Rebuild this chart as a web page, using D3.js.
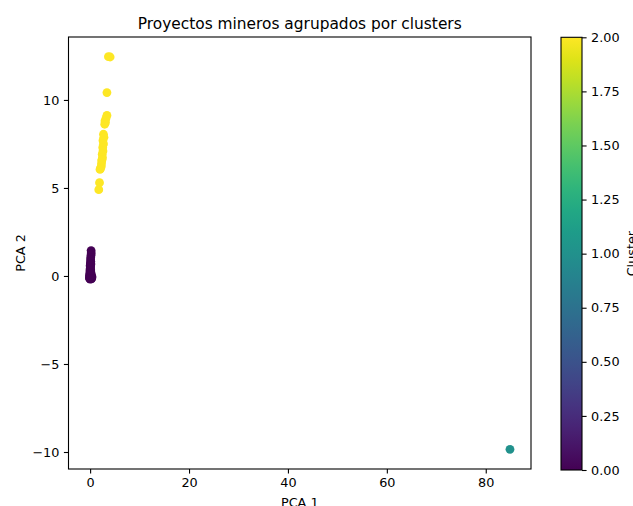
<!DOCTYPE html>
<html>
<head>
<meta charset="utf-8">
<script src="https://cdn.jsdelivr.net/npm/d3@7"></script>
<style>
  html, body { margin: 0; padding: 0; background: #fff; }
  svg { display: block; font-family: "DejaVu Sans", sans-serif; }
</style>
</head>
<body>
<svg id="chart" width="633" height="506"></svg>
<script>
// PCA projection of mining projects, coloured by cluster label
const cluster0 = [
  [0.20, 1.44], [0.22, 1.30], [0.18, 1.18], [0.12, 1.05], [0.10, 0.92],
  [0.14, 0.82], [0.06, 0.72], [0.10, 0.62], [0.04, 0.54], [0.08, 0.46],
  [0.00, 0.40], [0.12, 0.34], [-0.04, 0.28], [0.06, 0.22], [0.18, 0.18],
  [-0.06, 0.14], [0.02, 0.10], [0.22, 0.06], [-0.10, 0.04], [0.10, 0.02],
  [0.30, -0.02], [-0.08, -0.06], [0.04, -0.08], [0.18, -0.10], [0.34, -0.12],
  [-0.10, -0.14], [0.10, -0.15], [0.26, -0.16], [0.00, -0.18], [0.38, -0.05],
  [-0.12, -0.10], [0.16, 0.00], [0.08, 0.30], [0.02, 0.60], [0.16, 0.68]
];
const cluster1 = [
  [84.9, -9.85]
];
const cluster2 = [
  [3.70, 12.46], [4.05, 12.44], [3.40, 10.42], [3.40, 9.12], [3.20, 8.95],
  [3.00, 8.80], [2.95, 8.62], [3.10, 8.72], [2.70, 8.05], [2.80, 7.88],
  [2.60, 7.70], [2.70, 7.50], [2.55, 7.30], [2.60, 7.10], [2.45, 6.92],
  [2.50, 6.72], [2.35, 6.55], [2.30, 6.38], [2.25, 6.22], [2.10, 6.10],
  [2.00, 6.05], [2.40, 6.60], [1.90, 5.30], [1.75, 4.90]
];
const clusterLabels = [0, 1, 2];
const xTicks = [0, 20, 40, 60, 80];
const yTicks = [-10, -5, 0, 5, 10];
const colorbarTicks = [0, 0.25, 0.5, 0.75, 1.0, 1.25, 1.5, 1.75, 2.0];

const points = [];
[cluster0, cluster1, cluster2].forEach((arr, i) =>
  arr.forEach(([x, y]) => points.push({ x, y, c: clusterLabels[i] })));

const svg = d3.select("#chart");
const plot = { left: 68.5, right: 531, top: 37, bottom: 469 };
const fontSize = 12.8;
const tickLen = 4.6;

// Axis limits with a 5% margin around the data extent
const xe = d3.extent(points, d => d.x), ye = d3.extent(points, d => d.y);
const xm = (xe[1] - xe[0]) * 0.05, ym = (ye[1] - ye[0]) * 0.05;
const x = d3.scaleLinear().domain([xe[0] - xm, xe[1] + xm]).range([plot.left, plot.right]);
const y = d3.scaleLinear().domain([ye[0] - ym, ye[1] + ym]).range([plot.bottom, plot.top]);
const color = d3.scaleSequential(d3.interpolateViridis).domain([0, 2]);

const fmtMinus = d => d3.format("")(d).replace("-", "\u2212");

// Points
svg.append("g")
  .selectAll("circle")
  .data(points)
  .join("circle")
  .attr("cx", d => x(d.x))
  .attr("cy", d => y(d.y))
  .attr("r", 4.4)
  .attr("fill", d => color(d.c));

// Frame
svg.append("rect")
  .attr("x", plot.left).attr("y", plot.top)
  .attr("width", plot.right - plot.left).attr("height", plot.bottom - plot.top)
  .attr("fill", "none").attr("stroke", "#000").attr("stroke-width", 1.1);

// Axes
const xAxis = svg.append("g")
  .attr("transform", `translate(0,${plot.bottom})`)
  .call(d3.axisBottom(x).tickValues(xTicks).tickSize(tickLen).tickPadding(4.5).tickFormat(fmtMinus));
const yAxis = svg.append("g")
  .attr("transform", `translate(${plot.left},0)`)
  .call(d3.axisLeft(y).tickValues(yTicks).tickSize(tickLen).tickPadding(4.5).tickFormat(fmtMinus));
[xAxis, yAxis].forEach(g => {
  g.select(".domain").remove();
  g.selectAll(".tick line").attr("stroke", "#000").attr("stroke-width", 1.1);
  g.selectAll(".tick text").attr("fill", "#000").attr("font-size", fontSize)
    .attr("font-family", "DejaVu Sans");
});

// Title and axis labels
const cx = (plot.left + plot.right) / 2;
svg.append("text")
  .attr("x", cx).attr("y", 28.5).attr("text-anchor", "middle")
  .attr("font-size", 15.4).attr("fill", "#000")
  .text("Proyectos mineros agrupados por clusters");
svg.append("text")
  .attr("x", cx).attr("y", 506.5).attr("text-anchor", "middle")
  .attr("font-size", fontSize).attr("fill", "#000")
  .text("PCA 1");
svg.append("text")
  .attr("transform", `translate(24.5,${(plot.top + plot.bottom) / 2}) rotate(-90)`)
  .attr("text-anchor", "middle")
  .attr("font-size", fontSize).attr("fill", "#000")
  .text("PCA 2");

// Colour bar
const cb = { left: 561, right: 582, top: 37.3, bottom: 470 };
const grad = svg.append("defs").append("linearGradient")
  .attr("id", "viridis").attr("x1", 0).attr("y1", 1).attr("x2", 0).attr("y2", 0);
d3.range(0, 1.0001, 0.05).forEach(t =>
  grad.append("stop").attr("offset", t).attr("stop-color", d3.interpolateViridis(t)));
svg.append("rect")
  .attr("x", cb.left).attr("y", cb.top)
  .attr("width", cb.right - cb.left).attr("height", cb.bottom - cb.top)
  .attr("fill", "url(#viridis)")
  .attr("stroke", "#000").attr("stroke-width", 1.1);
const cbScale = d3.scaleLinear().domain([0, 2]).range([cb.bottom, cb.top]);
const cbAxis = svg.append("g")
  .attr("transform", `translate(${cb.right},0)`)
  .call(d3.axisRight(cbScale).tickValues(colorbarTicks).tickSize(tickLen).tickPadding(4.5)
    .tickFormat(d3.format(".2f")));
cbAxis.select(".domain").remove();
cbAxis.selectAll(".tick line").attr("stroke", "#000").attr("stroke-width", 1.1);
cbAxis.selectAll(".tick text").attr("fill", "#000").attr("font-size", fontSize)
  .attr("font-family", "DejaVu Sans");
svg.append("text")
  .attr("transform", `translate(635.5,${(cb.top + cb.bottom) / 2}) rotate(-90)`)
  .attr("text-anchor", "middle")
  .attr("font-size", fontSize).attr("fill", "#000")
  .text("Cluster");
</script>
</body>
</html>
